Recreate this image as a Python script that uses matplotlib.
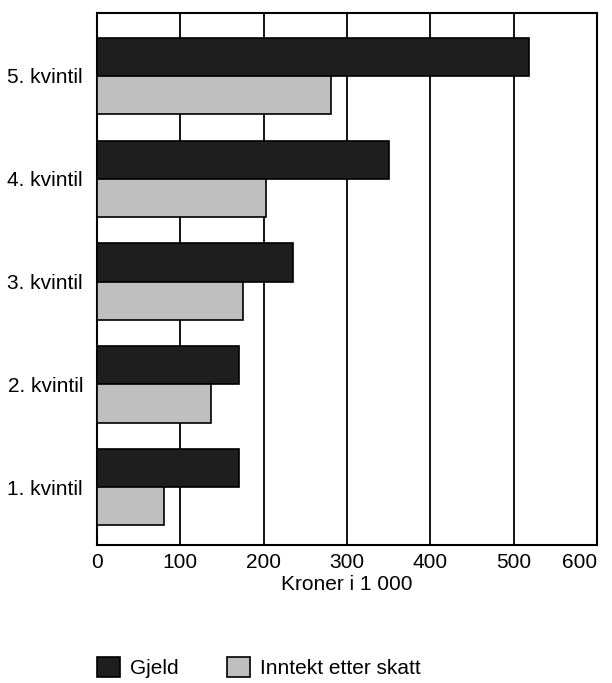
import matplotlib.pyplot as plt
import numpy as np

categories = ['1. kvintil', '2. kvintil', '3. kvintil', '4. kvintil', '5. kvintil']
gjeld = [170, 170, 235, 350, 518]
inntekt = [80, 137, 175, 203, 281]
xticks = [0, 100, 200, 300, 400, 500, 600]

plt.rcParams['font.family'] = ['Liberation Sans', 'DejaVu Sans']


def create_plot():
    fig = plt.figure(figsize=(6.12, 6.83), dpi=100)
    ax = fig.add_axes([97 / 612, 1 - 545 / 683, 500 / 612, 532 / 683])

    y = np.arange(len(categories))
    h = 0.37
    ax.barh(y + h / 2, gjeld, height=h, color='#1e1e1e', edgecolor='black',
            linewidth=1.2, label='Gjeld', zorder=3)
    ax.barh(y - h / 2, inntekt, height=h, color='#bfbfbf', edgecolor='black',
            linewidth=1.2, label='Inntekt etter skatt', zorder=3)

    ax.set_xlim(0, 600)
    ax.set_ylim(-0.56, 4.61)
    ax.set_xticks(xticks)
    ax.set_xticklabels([str(t) for t in xticks], fontsize=15)
    ax.set_yticks(y)
    ax.set_yticklabels(categories, fontsize=15)
    ax.tick_params(axis='x', length=0, pad=6)
    ax.tick_params(axis='y', length=0, pad=10)
    ax.grid(True, axis='x', color='black', linewidth=1.3, zorder=1)
    for s in ax.spines.values():
        s.set_linewidth(1.5)
    ax.set_xlabel('Kroner i 1 000', fontsize=15, labelpad=2)
    # keep the last tick label inside the picture
    ax.get_xticklabels()[-1].set_horizontalalignment('right')
    ax.get_xticklabels()[-1].set_x(600)

    fig.legend(loc='lower left', bbox_to_anchor=(78 / 612, -14 / 683), ncol=2,
               frameon=False, fontsize=15, handlelength=1.1, handleheight=1.1,
               columnspacing=2.3, handletextpad=0.5)

    fig.savefig('out.png', dpi=100)


if __name__ == "__main__":
    create_plot()
